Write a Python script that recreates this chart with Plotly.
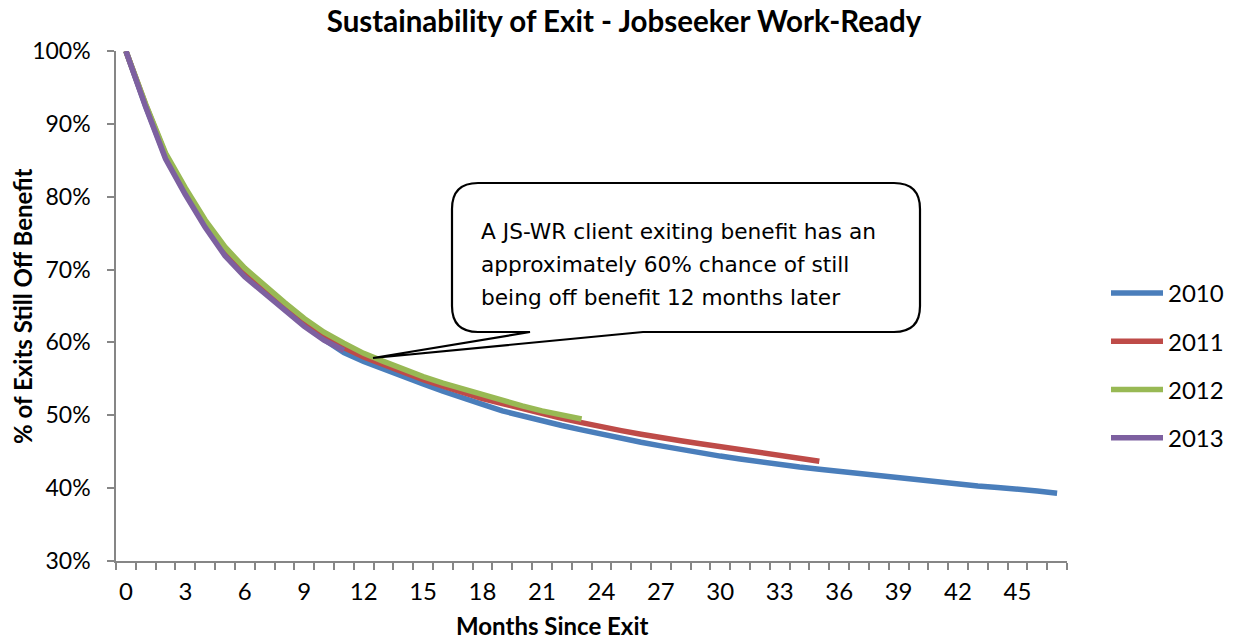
import plotly.graph_objects as go

months = list(range(48))
years = ["2010", "2011", "2012", "2013"]

pct_2010 = [100, 92.4, 85.4, 80.5, 76.0, 72.2, 69.3, 67.0, 64.6, 62.4, 60.4, 58.6,
            57.4, 56.3, 55.3, 54.3, 53.3, 52.3, 51.5, 50.6, 49.9, 49.2, 48.6, 48.0,
            47.4, 46.8, 46.3, 45.8, 45.3, 44.8, 44.4, 44.0, 43.6, 43.2, 42.9, 42.6,
            42.3, 42.0, 41.7, 41.4, 41.1, 40.8, 40.6, 40.3, 40.1, 39.9, 39.6, 39.3]
pct_2011 = [100, 92.6, 85.8, 80.9, 76.4, 72.6, 69.6, 67.3, 65.0, 62.8, 60.9, 59.3,
            58.0, 56.9, 55.9, 54.9, 54.0, 53.1, 52.3, 51.6, 50.9, 50.2, 49.6, 49.0,
            48.4, 47.9, 47.4, 46.9, 46.5, 46.1, 45.7, 45.3, 44.9, 44.5, 44.1, 43.7]
pct_2012 = [100, 92.7, 86.0, 81.2, 76.8, 73.1, 70.2, 67.8, 65.5, 63.3, 61.4, 59.9,
            58.5, 57.4, 56.3, 55.3, 54.4, 53.6, 52.8, 52.0, 51.3, 50.6, 50.0, 49.5]
pct_2013 = [100, 92.3, 85.2, 80.3, 75.8, 71.9, 69.0, 66.8, 64.4, 62.2, 60.3, 58.9]
series = [pct_2010, pct_2011, pct_2012, pct_2013]
colors = ["#4A7EBB", "#BE4B48", "#98B954", "#7D60A0"]

x_tick_labels = list(range(0, 46, 3))

callout_lines = ["A JS-WR client exiting benefit has an",
                 "approximately 60% chance of still",
                 "being off benefit 12 months later"]

# plot-area pixel geometry (used only to place the callout box and titles)
W, H = 1237, 639
L, R, T, B = 116, 1067, 51, 561


def px(xp):
    return (xp - L) / (R - L)


def py(yp):
    return (B - yp) / (B - T)


fig = go.Figure()
for name, vals, col in zip(years, series, colors):
    fig.add_trace(go.Scatter(
        x=months[:len(vals)], y=vals, mode="lines", name=name,
        line=dict(color=col, width=5.5), legendgroup=name,
    ))

# callout box with pointer (rounded rectangle)
x0, x1, y0, y1, r = 452, 920, 183, 332, 26
tip_x, tip_y = 373, 358
w1, w2 = 530, 643
path = (f"M {px(x0 + r)} {py(y0)} L {px(x1 - r)} {py(y0)} "
        f"Q {px(x1)} {py(y0)} {px(x1)} {py(y0 + r)} "
        f"L {px(x1)} {py(y1 - r)} Q {px(x1)} {py(y1)} {px(x1 - r)} {py(y1)} "
        f"L {px(w2)} {py(y1)} L {px(tip_x)} {py(tip_y)} L {px(w1)} {py(y1)} "
        f"L {px(x0 + r)} {py(y1)} Q {px(x0)} {py(y1)} {px(x0)} {py(y1 - r)} "
        f"L {px(x0)} {py(y0 + r)} Q {px(x0)} {py(y0)} {px(x0 + r)} {py(y0)} Z")
fig.add_shape(type="path", path=path, xref="paper", yref="paper",
              line=dict(color="black", width=2.2), fillcolor="white", layer="above")

for i, txt in enumerate(callout_lines):
    fig.add_annotation(text=txt, xref="paper", yref="paper",
                       x=px(479), y=py(232 + i * 32.5), xanchor="left", yanchor="middle",
                       showarrow=False, align="left",
                       font=dict(family="DejaVu Sans", size=21.7, color="black"))

font_main = "Lato, Calibri, sans-serif"

fig.add_annotation(text="<b>Months Since Exit</b>", xref="paper", yref="paper",
                   x=px(552), y=py(625), xanchor="center", yanchor="middle",
                   showarrow=False,
                   font=dict(family=font_main, size=24, color="black"))
fig.add_annotation(text="<b>% of Exits Still Off Benefit</b>", xref="paper", yref="paper",
                   x=px(22), y=py(306), xanchor="center", yanchor="middle",
                   showarrow=False, textangle=-90,
                   font=dict(family=font_main, size=24, color="black"))

fig.update_layout(
    width=W, height=H,
    margin=dict(l=L, r=W - R, t=T, b=H - B, autoexpand=False),
    paper_bgcolor="white", plot_bgcolor="white",
    title=dict(text="<b>Sustainability of Exit - Jobseeker Work-Ready</b>",
               x=624 / W, xanchor="center", y=1 - 22 / H, yanchor="middle",
               font=dict(family=font_main, size=29.5, color="black")),
    showlegend=True,
    legend=dict(x=px(1106), xanchor="left", y=py(271), yanchor="top",
                font=dict(family=font_main, size=24, color="black"),
                tracegroupgap=14, itemwidth=52, bgcolor="rgba(0,0,0,0)"),
    xaxis=dict(range=[-0.5, 47.5], tickmode="array", tickvals=x_tick_labels,
               ticktext=[str(v) for v in x_tick_labels], ticks="",
               showgrid=False, zeroline=False, showline=True, automargin=False,
               linecolor="#868686", linewidth=1.5,
               tickfont=dict(family=font_main, size=24, color="black"),
               ticklabelstandoff=8,
               minor=dict(tick0=-0.5, dtick=1, ticks="outside", ticklen=7,
                          tickcolor="#868686", tickwidth=1.5, showgrid=False)),
    yaxis=dict(range=[30, 100], dtick=10, ticksuffix="%", ticks="outside",
               ticklen=7, tickcolor="#868686", tickwidth=1.5,
               showgrid=False, zeroline=False, showline=True, automargin=False,
               linecolor="#868686", linewidth=1.5,
               tickfont=dict(family=font_main, size=23, color="black"),
               ticklabelstandoff=12),
)

fig.write_html("out.html", config={"displayModeBar": False},
               post_script="document.body.style.margin='0';document.body.style.overflow='hidden';")
